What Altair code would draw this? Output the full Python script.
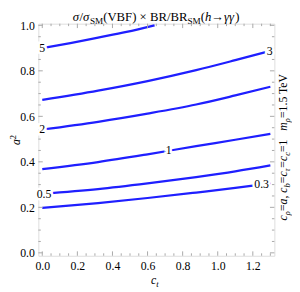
import altair as alt
import pandas as pd

# ---------------- data ----------------
ct = [0.0, 0.318, 0.6, 0.877, 1.1, 1.3]
lev03 = [0.198, 0.219, 0.241, 0.265, 0.285, 0.305]
lev05 = [0.260, 0.280, 0.305, 0.333, 0.358, 0.384]
lev1 = [0.368, 0.399, 0.433, 0.469, 0.497, 0.523]
lev2 = [0.542, 0.576, 0.612, 0.652, 0.692, 0.730]
lev3 = [0.672, 0.713, 0.755, 0.803, 0.847, 0.888]
ct5 = [0.0, 0.16, 0.318, 0.48, 0.64]
lev5 = [0.900, 0.922, 0.946, 0.971, 1.0]

label_text = ["5", "3", "2", "1", "0.5", "0.3"]
label_ct = [0.0, 1.296, 0.0, 0.72, 0.01, 1.25]
label_a2 = [0.900, 0.888, 0.542, 0.450, 0.260, 0.301]

x_major = [0.0, 0.2, 0.4, 0.6, 0.8, 1.0, 1.2]
y_major = [0.0, 0.2, 0.4, 0.6, 0.8, 1.0]

# ---------------- layout ----------------
W, H = 241, 237
PAD_L, PAD_T = 31, 13
XDOM = [-0.0223, 1.3228]
YDOM = [-0.0129, 1.0073]
BLUE = "#1f1fff"
FRAME = "#a8a8a8"
FONT = "'Liberation Serif', 'Times New Roman', serif"

xs = alt.Scale(domain=XDOM, nice=False, zero=False)
ys = alt.Scale(domain=YDOM, nice=False, zero=False)

rows = []
for name, xv, yv in [("0.3", ct, lev03), ("0.5", ct, lev05), ("1", ct, lev1),
                     ("2", ct, lev2), ("3", ct, lev3), ("5", ct5, lev5)]:
    for i, (a, b) in enumerate(zip(xv, yv)):
        rows.append({"lev": name, "ct": a, "a2": b, "o": i})
lines_df = pd.DataFrame(rows)

lines = alt.Chart(lines_df).mark_line(color=BLUE, strokeWidth=2.3, interpolate="monotone", clip=True).encode(
    x=alt.X("ct:Q", scale=xs,
            axis=alt.Axis(values=x_major, format=".1f", ticks=False, tickSize=0, domain=False, grid=False,
                          labelFont=FONT, labelFontSize=12, labelColor="black", labelPadding=5, title=None)),
    y=alt.Y("a2:Q", scale=ys,
            axis=alt.Axis(values=y_major, format=".1f", ticks=False, tickSize=0, domain=False, grid=False,
                          labelFont=FONT, labelFontSize=12, labelColor="black", labelPadding=4, title=None)),
    detail="lev:N",
    order="o:Q",
)

lab_df = pd.DataFrame({"t": label_text, "ct": label_ct, "a2": label_a2})
halo = alt.Chart(lab_df).mark_text(font=FONT, fontSize=12, fill="white", stroke="white", strokeWidth=5,
                                   baseline="middle").encode(
    x=alt.X("ct:Q", scale=xs), y=alt.Y("a2:Q", scale=ys), text="t:N")
labs = alt.Chart(lab_df).mark_text(font=FONT, fontSize=12, color="black", baseline="middle").encode(
    x=alt.X("ct:Q", scale=xs), y=alt.Y("a2:Q", scale=ys), text="t:N")

# ---------------- frame ticks ----------------
def steps(lo, hi, st):
    out = []
    v = lo
    while v <= hi + 1e-9:
        out.append(round(v, 4))
        v += st
    return out

x_minor = [v for v in steps(0.05, 1.30, 0.05) if all(abs(v - m) > 1e-6 for m in x_major)]
y_minor = [v for v in steps(0.05, 0.95, 0.05) if all(abs(v - m) > 1e-6 for m in y_major)]

tick_layers = []
for vals, L in [(x_major, 4.5), (x_minor, 2.5)]:
    d = pd.DataFrame({"v": vals})
    tick_layers.append(alt.Chart(d).mark_rule(color=FRAME, strokeWidth=1).encode(
        x=alt.X("v:Q", scale=xs), y=alt.value(H), y2=alt.value(H - L)))
    tick_layers.append(alt.Chart(d).mark_rule(color=FRAME, strokeWidth=1).encode(
        x=alt.X("v:Q", scale=xs), y=alt.value(0), y2=alt.value(L)))
for vals, L in [(y_major, 4.5), (y_minor, 2.5)]:
    d = pd.DataFrame({"v": vals})
    tick_layers.append(alt.Chart(d).mark_rule(color=FRAME, strokeWidth=1).encode(
        y=alt.Y("v:Q", scale=ys), x=alt.value(0), x2=alt.value(L)))
    tick_layers.append(alt.Chart(d).mark_rule(color=FRAME, strokeWidth=1).encode(
        y=alt.Y("v:Q", scale=ys), x=alt.value(W), x2=alt.value(W - L)))

# ---------------- rich text helpers ----------------
REG = {' ': 250, '(': 333, ')': 333, '/': 278, '×': 564, '=': 564, ',': 250, '.': 250, 'B': 667,
       'R': 667, 'V': 722, 'F': 556, 'S': 556, 'M': 889, 'T': 611, 'e': 444, '→': 1000}
IT = {'σ': 540, 'γ': 440, 'h': 500, 'c': 444, 'a': 500, 'm': 722, 'b': 500, 't': 278, 'ρ': 500, 'τ': 440}


def wid(s, size, italic):
    tb = IT if italic else REG
    return sum(tb.get(ch, 500) for ch in s) * size / 1000.0


def rich(segs, x0, y0, size, angle=0):
    """segs: (text, italic, kind) kind in 'n','sub','sup'. Returns list of charts."""
    out = []
    pos = 0.0
    for txt, it, kind in segs:
        fs = size if kind == "n" else size * 0.72
        shift = 0.0
        if kind == "sub":
            shift = size * 0.26
        elif kind == "sup":
            shift = -size * 0.36
        if angle == 0:
            px, py = x0 + pos, y0 + shift
        else:  # 270: reading upwards, "down" is +x
            px, py = x0 + shift, y0 - pos
        props = dict(font=FONT, fontSize=fs, color="black", align="left", baseline="alphabetic")
        if it:
            props["fontStyle"] = "italic"
        if angle:
            props["angle"] = angle
        out.append(alt.Chart(pd.DataFrame({"t": [txt]})).mark_text(**props).encode(
            x=alt.value(px), y=alt.value(py), text="t:N"))
        pos += wid(txt, fs, it)
    return out

title_segs = [("σ", True, "n"), ("/", False, "n"), ("σ", True, "n"), ("SM", False, "sub"),
              ("(VBF) × BR/BR", False, "n"), ("SM", False, "sub"), ("(", False, "n"),
              ("h", True, "n"), ("→", False, "n"), ("γγ", True, "n"), (")", False, "n")]
side_segs = [("c", True, "n"), ("ρ", True, "sub"), ("=", False, "n"), ("a", True, "n"),
             (", ", False, "n"), ("c", True, "n"), ("b", True, "sub"), ("=", False, "n"),
             ("c", True, "n"), ("τ", True, "sub"), ("=", False, "n"), ("c", True, "n"),
             ("c", True, "sub"), ("=1", False, "n"), ("   ", False, "n"), ("m", True, "n"),
             ("ρ", True, "sub"), ("=1.5 TeV", False, "n")]
xt_segs = [("c", True, "n"), ("t", True, "sub")]
yt_segs = [("a", True, "n"), ("2", False, "sup")]

texts = []
texts += rich(title_segs, 35, -3.0, 13)
texts += rich(side_segs, 253.5, 201, 12, angle=270)
texts += rich(xt_segs, 115, 266, 12)
texts += rich(yt_segs, -19, 124, 12, angle=270)

chart = alt.layer(lines, *tick_layers, halo, labs, *texts).properties(
    width=W, height=H,
    padding={"left": PAD_L, "top": PAD_T, "right": 18, "bottom": 34},
    autosize=alt.AutoSizeParams(type="none"),
).configure_view(stroke=FRAME, strokeWidth=1).configure(background="white")

chart.save("out.html", embed_options={"renderer": "svg", "actions": False})
